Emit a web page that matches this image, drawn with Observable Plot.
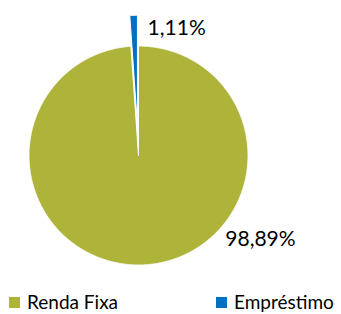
<!DOCTYPE html>
<html><head><meta charset="utf-8">
<script src="https://cdn.jsdelivr.net/npm/d3@7"></script>
<script src="https://cdn.jsdelivr.net/npm/@observablehq/plot@0.6"></script>
<style>
body{margin:0;background:#fff;font-family:Lato,sans-serif;width:341px;height:314px;overflow:hidden}
#legend{position:relative;height:24px;font-size:19px;color:#000}
.item{position:absolute;top:1px;display:flex;align-items:center;height:22px;line-height:22px;white-space:nowrap}
.sw{width:11px;height:11px;margin-right:7px}
</style>
</head><body><div id="chart"></div><div id="legend"></div>
<script>
const categories = ["Renda Fixa", "Empréstimo"];
const values = [98.89, 1.11];
const labels = ["98,89%", "1,11%"];
const colors = ["#AEB43A", "#0070C0"];
const explode = [0, 0.28];

const rows = categories.map((c, i) => ({category: c, value: values[i], label: labels[i], explode: explode[i]}));
const arcs = d3.pie().sort(null).value(d => d.value)(rows);

function slicePoints(s) {
  const mid = (s.startAngle + s.endAngle) / 2;
  const ox = s.data.explode * Math.sin(mid), oy = s.data.explode * Math.cos(mid);
  const out = [{category: s.data.category, x: ox, y: oy}];
  const n = Math.max(2, Math.ceil((s.endAngle - s.startAngle) / 0.005));
  for (let j = 0; j <= n; j++) {
    const a = s.startAngle + (s.endAngle - s.startAngle) * j / n;
    out.push({category: s.data.category, x: ox + Math.sin(a), y: oy + Math.cos(a)});
  }
  out.push({category: s.data.category, x: ox, y: oy});
  return out;
}
function outerMid(s) {
  const mid = (s.startAngle + s.endAngle) / 2;
  const r = 1 + s.data.explode;
  return {label: s.data.label, x: r * Math.sin(mid), y: r * Math.cos(mid)};
}

const sliceMarks = arcs.map(s => Plot.line(slicePoints(s), {
  x: "x", y: "y", fill: "category", stroke: "white", strokeWidth: 1, curve: "linear"
}));

const labelOffsets = [[83, -26], [14, 13]];
const labelMarks = arcs.map((s, i) => Plot.text([outerMid(s)], {
  x: "x", y: "y", text: "label", textAnchor: "start", lineAnchor: "middle",
  dx: labelOffsets[i][0], dy: labelOffsets[i][1], fontSize: 21, fill: "#000"
}));

const chart = Plot.plot({
  width: 341, height: 290,
  marginLeft: 28.5, marginRight: 93.5, marginTop: 45.5, marginBottom: 25.5,
  x: {domain: [-1, 1], axis: null},
  y: {domain: [-1, 1], axis: null},
  color: {domain: categories, range: colors},
  style: {fontFamily: "Lato, sans-serif", background: "white", overflow: "visible"},
  marks: [...sliceMarks, ...labelMarks]
});
document.getElementById("chart").appendChild(chart);

const legendPos = [9, 216];
const lg = document.getElementById("legend");
categories.forEach((c, i) => {
  const it = document.createElement("div");
  it.className = "item";
  it.style.left = legendPos[i] + "px";
  const sw = document.createElement("div");
  sw.className = "sw";
  sw.style.background = chart.scale("color").apply(c);
  it.appendChild(sw);
  it.appendChild(document.createTextNode(c));
  lg.appendChild(it);
});
</script>
</body></html>
